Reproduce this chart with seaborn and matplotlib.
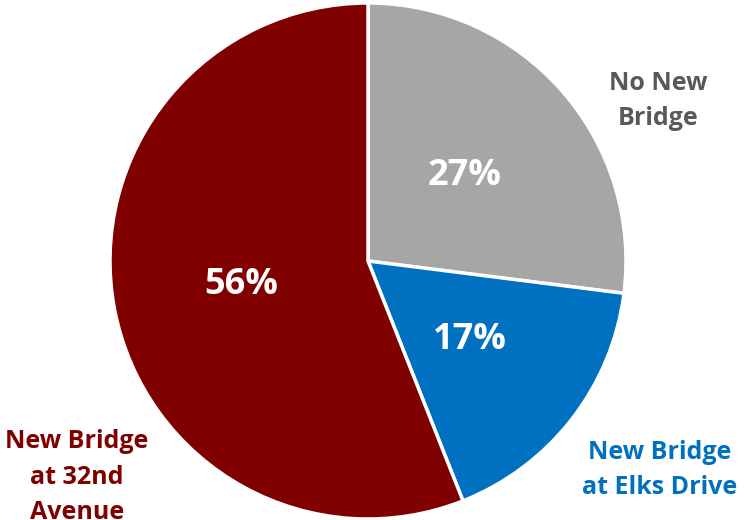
import matplotlib
matplotlib.use("Agg")
import matplotlib.pyplot as plt
import seaborn as sns

categories = ["No New Bridge", "New Bridge at Elks Drive", "New Bridge at 32nd Avenue"]
shares = [27, 17, 56]
colors = ["#A6A6A6", "#0070C0", "#800000"]
label_texts = ["No New\nBridge", "New Bridge\nat Elks Drive", "New Bridge\nat 32nd\nAvenue"]
label_colors = ["#595959", "#0070C0", "#800000"]

sns.set_theme(style="white")
plt.rcParams["font.family"] = ["Open Sans", "DejaVu Sans"]

fig = plt.figure(figsize=(7.44, 5.20), dpi=100)
ax = fig.add_axes([0, 0, 1, 1])

wedges, _, autotexts = ax.pie(
    shares,
    colors=colors,
    startangle=90,
    counterclock=False,
    center=(368, 259),
    radius=258,
    autopct=lambda p: f"{p:.0f}%",
    pctdistance=0.5,
    wedgeprops=dict(edgecolor="white", linewidth=2.5),
    textprops=dict(color="white", fontsize=26, fontweight="bold"),
)
ax.set_xlim(0, 744)
ax.set_ylim(0, 520)
ax.set_aspect("equal")
ax.axis("off")

label_pos = [(658, 419), (660, 50), (77, 43)]
for (x, y), txt, c in zip(label_pos, label_texts, label_colors):
    ax.text(x, y, txt, color=c, fontsize=18, fontweight="bold",
            ha="center", va="center", linespacing=1.55)

fig.savefig("out.png", dpi=100)
